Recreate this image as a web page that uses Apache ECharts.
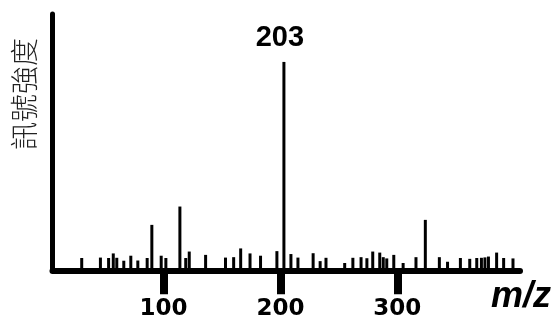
<!DOCTYPE html>
<html>
<head>
<meta charset="utf-8">
<script src="https://cdn.jsdelivr.net/npm/echarts@6/dist/echarts.min.js"></script>
<style>
  html, body { margin: 0; padding: 0; background: #fff; }
  #chart { width: 560px; height: 323px; }
</style>
</head>
<body>
<div id="chart"></div>
<script>
// m/z of each peak and its relative intensity (base peak = 100)
var mzValues = [30, 46, 53, 57, 60, 66, 72, 78, 86, 90,
  98, 102, 114, 119, 122, 136, 153, 160, 166, 174,
  183, 197, 203, 209, 215, 228, 234, 239, 255, 262,
  269, 274, 279, 285, 288, 291, 297, 305, 316, 324,
  336, 343, 354, 362, 368, 372, 375, 378, 385, 391,
  399];
var intensities = [5.9, 6.1, 5.9, 8.1, 6.0, 4.6, 7.0, 4.7, 5.9, 21.8,
  7.0, 5.9, 30.6, 5.9, 9.0, 7.4, 6.1, 6.3, 10.5, 8.1,
  7.0, 9.2, 100, 7.8, 6.1, 8.2, 4.4, 6.0, 3.5, 6.0,
  6.3, 5.8, 9.0, 8.5, 6.3, 5.7, 7.4, 3.5, 6.3, 24.2,
  6.3, 4.1, 5.9, 5.5, 5.9, 6.0, 6.2, 6.6, 8.5, 5.9,
  5.7];
var tickValues = [100, 200, 300];
var basePeak = 203;
var yTitle = '訊號強度';
var xTitle = 'm/z';

var peaks = [];
for (var i = 0; i < mzValues.length; i++) {
  var item = { value: [mzValues[i], intensities[i]] };
  if (mzValues[i] === basePeak) {
    item.label = {
      show: true,
      position: 'top',
      distance: 9,
      offset: [-4, 0],
      formatter: String(basePeak),
      fontFamily: '"Liberation Sans", Arial',
      fontWeight: 'bold',
      fontSize: 29,
      color: '#000'
    };
  }
  peaks.push(item);
}

var chart = echarts.init(document.getElementById('chart'));
chart.setOption({
  animation: false,
  grid: { left: 52.5, right: 40, top: 14, bottom: 52.7 },
  xAxis: {
    type: 'value',
    min: 5,
    max: 405,
    splitLine: { show: false },
    axisLine: { show: true, onZero: false, lineStyle: { color: '#000', width: 6 } },
    axisTick: { show: true, customValues: tickValues, length: 24, lineStyle: { color: '#000', width: 8 } },
    axisLabel: {
      customValues: tickValues,
      margin: 27,
      color: '#000',
      fontFamily: '"DejaVu Sans"',
      fontWeight: 'bold',
      fontSize: 23
    }
  },
  yAxis: {
    type: 'value',
    min: 0,
    max: 123,
    splitLine: { show: false },
    axisTick: { show: false },
    axisLabel: { show: false },
    axisLine: { show: true, lineStyle: { color: '#000', width: 5, cap: 'round' } }
  },
  graphic: [
    {
      type: 'text',
      x: 24,
      y: 94,
      rotation: Math.PI / 2,
      style: {
        text: yTitle,
        fill: '#222',
        font: '300 28px "Noto Sans CJK TC"',
        align: 'center',
        verticalAlign: 'middle'
      }
    },
    {
      type: 'text',
      x: 491,
      y: 297,
      style: {
        text: xTitle,
        fill: '#000',
        font: 'italic bold 36px "Liberation Sans", Arial',
        align: 'left',
        verticalAlign: 'middle'
      }
    }
  ],
  series: [{
    type: 'bar',
    barWidth: 3,
    itemStyle: { color: '#000' },
    data: peaks
  }]
});
</script>
</body>
</html>
